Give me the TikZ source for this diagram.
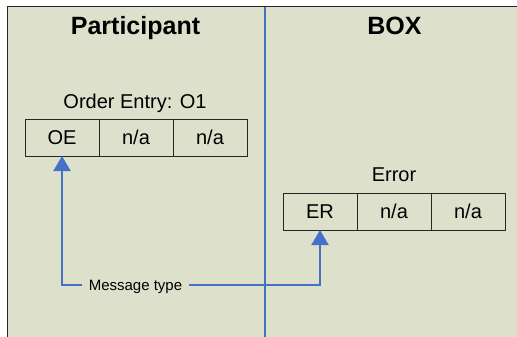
\documentclass[tikz,border=0pt]{standalone}
\usepackage{fontspec}
\setmainfont{Liberation Sans}
\usepackage{xcolor}
\usepackage{tikz}
\usetikzlibrary{arrows.meta,positioning}

\definecolor{panelbg}{RGB}{221,225,204}
\definecolor{linkblue}{RGB}{68,114,196}

\begin{document}
\begin{tikzpicture}[x=1pt,y=-1pt,
  heading/.style={font=\fontsize{25}{30}\selectfont\bfseries, anchor=base, inner sep=0pt},
  caption/.style={font=\fontsize{20}{24}\selectfont, anchor=base, inner sep=0pt},
  field/.style={draw=black!85, line width=1pt, minimum width=74pt, minimum height=37pt,
    outer sep=0pt, inner sep=0pt, font=\fontsize{20}{24}\selectfont, text height=14.3pt, text depth=0pt},
  link/.style={draw=linkblue, line width=2pt, -{Triangle[width=17pt,length=15pt]}}]
\useasboundingbox (0,0) rectangle (517,337);
\filldraw[fill=panelbg, draw=black!85, line width=1pt] (7,7) rectangle (522,342);
\draw[linkblue, line width=2pt] (265,7) -- (265,337);

\node[heading] (participant) at (135.5,35) {Participant};
\node[heading] (box) at (394.5,35) {BOX};

\node[caption] (oelabel) at (135,108) {Order Entry: O1};
\node[field] (oe) at (62,137.5) {OE};
\node[field, right=0pt of oe] (oena) {n/a};
\node[field, right=0pt of oena] (oenb) {n/a};

\node[caption] (erlabel) at (394,181) {Error};
\node[field] (er) at (320,211.5) {ER};
\node[field, right=0pt of er] (erna) {n/a};
\node[field, right=0pt of erna] (ernb) {n/a};

\node[font=\fontsize{15}{18}\selectfont, inner xsep=6.5pt, inner ysep=0pt, text height=10.7pt, text depth=0pt] (msg) at (135.5,285) {Message type};
\draw[link] (msg.west) -| (oe.south);
\draw[link] (msg.east) -| (er.south);
\end{tikzpicture}
\end{document}
